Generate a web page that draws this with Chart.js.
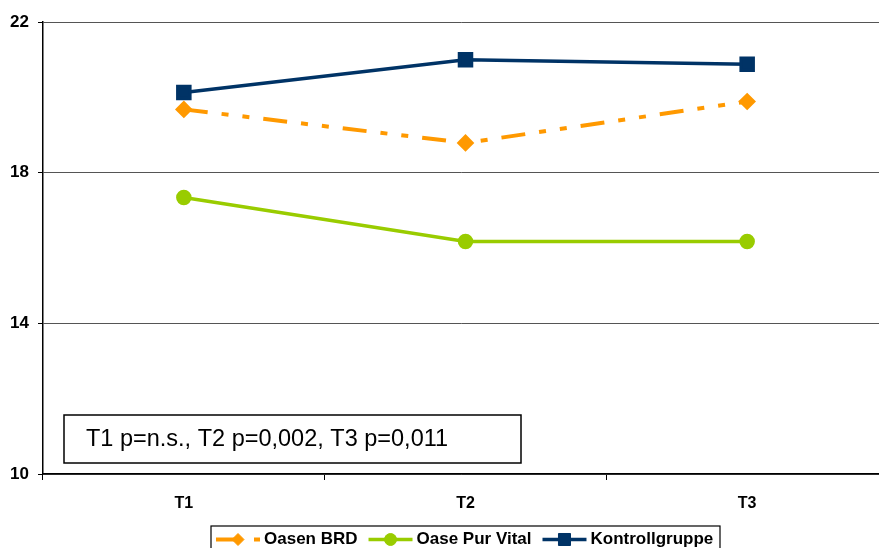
<!DOCTYPE html>
<html>
<head>
<meta charset="utf-8">
<script src="https://cdn.jsdelivr.net/npm/chart.js@4"></script>
<style>
  html, body { margin: 0; padding: 0; background: #fff; overflow: hidden; }
  canvas { display: block; }
</style>
</head>
<body>
<canvas id="chart" width="879" height="548"></canvas>
<script>
// Werte
const categories = ['T1', 'T2', 'T3'];
const oasenBrd = [19.68, 18.79, 19.89];
const oasePurVital = [17.34, 16.17, 16.17];
const kontrollgruppe = [20.13, 21.0, 20.88];
const yTicks = [10, 14, 18, 22];
const seriesNames = ['Oasen BRD', 'Oase Pur Vital', 'Kontrollgruppe'];
const noteText = 'T1 p=n.s., T2 p=0,002, T3 p=0,011';

const FONT = '"Liberation Sans", Arial, sans-serif';
const PLOT_RIGHT = 888; // Plotfläche reicht im Original über den rechten Bildrand hinaus

// Plotfläche nach rechts verlängern
const widenArea = {
  id: 'widenArea',
  afterLayout(chart) {
    const x = chart.scales.x;
    x.right = PLOT_RIGHT;
    x.width = PLOT_RIGHT - x.left;
    x.configure();
    chart.chartArea.right = PLOT_RIGHT;
    chart.chartArea.width = PLOT_RIGHT - chart.chartArea.left;
    chart.scales.y.configure();
  }
};

// Textkasten + Legende (Excel-Stil) zeichnen
const extras = {
  id: 'extras',
  afterDraw(chart) {
    const ctx = chart.ctx;
    const area = chart.chartArea;

    // Kasten mit p-Werten
    ctx.save();
    ctx.fillStyle = '#fff';
    ctx.fillRect(area.left + 21, area.bottom - 59, 457, 48);
    ctx.lineWidth = 1.5;
    ctx.strokeStyle = '#000';
    ctx.strokeRect(area.left + 21, area.bottom - 59, 457, 48);
    ctx.fillStyle = '#000';
    ctx.font = '23.5px ' + FONT;
    ctx.textBaseline = 'middle';
    ctx.textAlign = 'left';
    ctx.fillText(noteText, area.left + 43, area.bottom - 34);
    ctx.restore();

    // Legende
    ctx.save();
    const y = 539.5;
    ctx.lineWidth = 1.2;
    ctx.strokeStyle = '#000';
    ctx.strokeRect(211, 526, 509, 40);
    ctx.font = 'bold 17px ' + FONT;
    ctx.textBaseline = 'middle';
    let x = 216;
    chart.data.datasets.forEach(ds => {
      ctx.save();
      ctx.strokeStyle = ds.borderColor;
      ctx.lineWidth = ds.borderWidth;
      ctx.setLineDash(ds.borderDash || []);
      ctx.beginPath();
      ctx.moveTo(x, y);
      ctx.lineTo(x + 44, y);
      ctx.stroke();
      ctx.setLineDash([]);
      ctx.fillStyle = ds.pointBackgroundColor;
      ctx.strokeStyle = ds.pointBorderColor;
      ctx.lineWidth = 1;
      Chart.helpers.drawPoint(ctx, {
        pointStyle: ds.pointStyle,
        radius: ds.pointRadius,
        rotation: 0,
        borderWidth: 1
      }, x + 22, y);
      ctx.restore();
      ctx.fillStyle = '#000';
      ctx.fillText(ds.label, x + 48, y);
      x += 48 + ctx.measureText(ds.label).width + 11;
    });
    ctx.restore();
  }
};

new Chart(document.getElementById('chart'), {
  type: 'line',
  data: {
    labels: categories,
    datasets: [
      {
        label: seriesNames[0],
        data: oasenBrd,
        borderColor: '#FF9900',
        borderWidth: 4,
        borderDash: [24, 14, 7, 14, 7, 14],
        pointStyle: 'rectRot',
        pointRadius: 6,
        pointBackgroundColor: '#FF9900',
        pointBorderColor: '#FF9900',
        tension: 0
      },
      {
        label: seriesNames[1],
        data: oasePurVital,
        borderColor: '#99CC00',
        borderWidth: 3.5,
        pointStyle: 'circle',
        pointRadius: 6,
        pointBackgroundColor: '#99CC00',
        pointBorderColor: '#99CC00',
        tension: 0
      },
      {
        label: seriesNames[2],
        data: kontrollgruppe,
        borderColor: '#003366',
        borderWidth: 3.5,
        pointStyle: 'rect',
        pointRadius: 8.5,
        pointBackgroundColor: '#003366',
        pointBorderColor: '#003366',
        tension: 0
      }
    ]
  },
  options: {
    responsive: false,
    animation: false,
    layout: { padding: { top: 22, right: 0, left: 0, bottom: 0 } },
    plugins: {
      legend: { display: false },
      tooltip: { enabled: false }
    },
    scales: {
      x: {
        offset: true,
        afterFit: s => { s.height = 74; },
        grid: {
          offset: true,
          drawOnChartArea: false,
          tickLength: 6,
          color: '#000'
        },
        border: { color: '#000', width: 1.5 },
        ticks: {
          color: '#000',
          padding: 13.5,
          font: { family: FONT, size: 16, weight: 'bold' }
        }
      },
      y: {
        min: 10,
        max: 22,
        afterFit: s => { s.width = 43; },
        afterBuildTicks: s => { s.ticks = yTicks.map(v => ({ value: v })); },
        grid: {
          color: '#555',
          tickColor: '#000',
          tickLength: 5,
          lineWidth: 1
        },
        border: { color: '#000', width: 1.5 },
        ticks: {
          color: '#000',
          padding: 9,
          font: { family: FONT, size: 17, weight: 'bold' }
        }
      }
    }
  },
  plugins: [widenArea, extras]
});
</script>
</body>
</html>
